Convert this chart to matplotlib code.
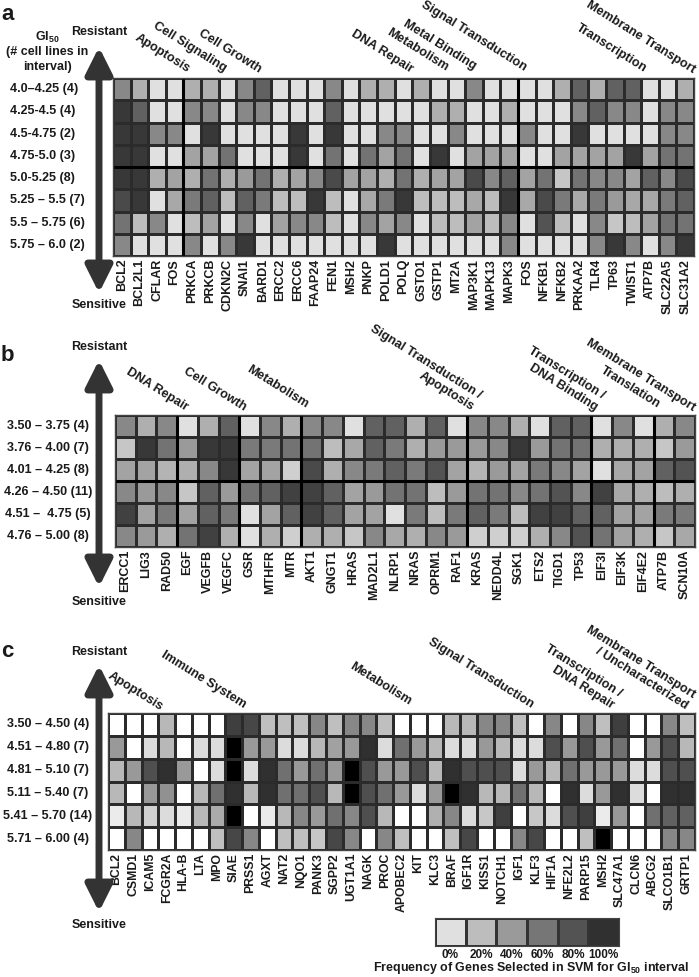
import matplotlib
matplotlib.use('Agg')
import matplotlib.pyplot as plt
import matplotlib.transforms as mtransforms
from matplotlib.colors import LinearSegmentedColormap
from matplotlib.patches import FancyArrowPatch
import numpy as np

plt.rcParams['font.family'] = ['Liberation Sans', 'DejaVu Sans']
plt.rcParams['font.weight'] = 'bold'
plt.rcParams['text.color'] = '#1a1a1a'
plt.rcParams['xtick.color'] = '#1a1a1a'
plt.rcParams['mathtext.fontset'] = 'custom'
plt.rcParams['mathtext.rm'] = 'Liberation Sans:bold'
plt.rcParams['mathtext.it'] = 'Liberation Sans:bold'
plt.rcParams['mathtext.bf'] = 'Liberation Sans:bold'
plt.rcParams['mathtext.default'] = 'rm'

# ---- data (frequency of selection, %) ----
genes_a = ['BCL2', 'BCL2L1', 'CFLAR', 'FOS', 'PRKCA', 'PRKCB', 'CDKN2C', 'SNAI1',
           'BARD1', 'ERCC2', 'ERCC6', 'FAAP24', 'FEN1', 'MSH2', 'PNKP', 'POLD1', 'POLQ',
           'GSTO1', 'GSTP1', 'MT2A', 'MAP3K1', 'MAPK13', 'MAPK3', 'FOS', 'NFKB1', 'NFKB2',
           'PRKAA2', 'TLR4', 'TP63', 'TWIST1', 'ATP7B', 'SLC22A5', 'SLC31A2']
rows_a = ['4.0–4.25 (4)', '4.25-4.5 (4)', '4.5-4.75 (2)', '4.75-5.0 (3)',
          '5.0-5.25 (8)', '5.25 – 5.5 (7)', '5.5 – 5.75 (6)', '5.75 – 6.0 (2)']
vals_a = [
    [50, 28, 0, 0, 28, 28, 0, 50, 72, 0, 0, 0, 50, 0, 28, 28, 0, 28, 0, 0, 50, 0, 0, 0, 0, 28, 72, 28, 72, 72, 0, 0, 28],
    [95, 72, 0, 0, 50, 50, 0, 50, 50, 0, 0, 0, 72, 0, 0, 0, 0, 0, 28, 28, 0, 0, 28, 0, 0, 0, 50, 72, 50, 50, 0, 50, 50],
    [95, 95, 50, 50, 0, 95, 0, 0, 0, 0, 95, 0, 95, 0, 0, 50, 50, 0, 0, 50, 0, 0, 0, 50, 0, 0, 95, 0, 0, 0, 0, 50, 50],
    [95, 95, 0, 0, 35, 35, 62, 0, 0, 0, 95, 0, 62, 0, 62, 35, 62, 0, 95, 0, 35, 35, 35, 0, 0, 35, 35, 35, 35, 95, 35, 62, 62],
    [95, 95, 28, 35, 28, 62, 28, 40, 62, 28, 35, 50, 85, 35, 35, 28, 62, 28, 35, 35, 85, 50, 72, 35, 62, 15, 62, 50, 50, 35, 72, 50, 85],
    [85, 95, 0, 32, 58, 72, 20, 72, 58, 20, 20, 95, 20, 0, 32, 58, 95, 20, 20, 20, 32, 20, 95, 32, 85, 58, 32, 58, 40, 32, 32, 58, 72],
    [62, 20, 50, 0, 20, 35, 0, 50, 0, 35, 50, 50, 20, 0, 50, 35, 50, 0, 20, 20, 35, 20, 50, 0, 80, 20, 0, 50, 15, 20, 35, 62, 62],
    [50, 0, 0, 0, 50, 0, 50, 95, 0, 0, 0, 0, 0, 0, 0, 95, 0, 0, 0, 0, 0, 0, 50, 0, 0, 0, 0, 50, 95, 50, 0, 50, 95],
]
groups_a = ['Apoptosis', 'Cell Signaling', 'Cell Growth', 'DNA Repair', 'Metabolism',
            'Metal Binding', 'Signal Transduction', 'Transcription', 'Membrane Transport']

genes_b = ['ERCC1', 'LIG3', 'RAD50', 'EGF', 'VEGFB', 'VEGFC', 'GSR', 'MTHFR', 'MTR',
           'AKT1', 'GNGT1', 'HRAS', 'MAD2L1', 'NLRP1', 'NRAS', 'OPRM1', 'RAF1', 'KRAS',
           'NEDD4L', 'SGK1', 'ETS2', 'TIGD1', 'TP53', 'EIF3I', 'EIF3K', 'EIF4E2', 'ATP7B', 'SCN10A']
rows_b = ['3.50 – 3.75 (4)', '3.76 – 4.00 (7)', '4.01 – 4.25 (8)',
          '4.26 – 4.50 (11)', '4.51 –  4.75 (5)', '4.76 – 5.00 (8)']
vals_b = [
    [50, 28, 50, 0, 28, 72, 0, 50, 28, 50, 50, 0, 72, 72, 28, 72, 0, 50, 50, 28, 0, 72, 72, 0, 50, 0, 28, 50],
    [15, 95, 62, 40, 95, 95, 58, 58, 62, 62, 20, 32, 72, 58, 28, 40, 40, 40, 50, 95, 40, 62, 62, 28, 28, 28, 15, 40],
    [35, 35, 25, 28, 50, 95, 35, 35, 10, 85, 28, 50, 58, 72, 58, 80, 35, 25, 40, 35, 58, 50, 35, 0, 32, 35, 72, 80],
    [50, 40, 50, 15, 72, 40, 62, 72, 90, 90, 72, 35, 40, 62, 62, 20, 40, 62, 62, 50, 62, 80, 50, 90, 32, 28, 20, 28],
    [90, 35, 58, 35, 72, 58, 0, 35, 72, 90, 72, 35, 35, 0, 58, 20, 58, 72, 58, 20, 90, 90, 72, 72, 35, 35, 58, 58],
    [50, 40, 28, 62, 90, 28, 0, 28, 10, 28, 28, 15, 50, 32, 28, 50, 40, 10, 10, 10, 28, 50, 80, 62, 35, 28, 15, 32],
]
groups_b = ['DNA Repair', 'Cell Growth', 'Metabolism', 'Signal Transduction /\nApoptosis',
            'Transcription /\nDNA Binding', 'Translation', 'Membrane Transport']

genes_c = ['BCL2', 'CSMD1', 'ICAM5', 'FCGR2A', 'HLA-B', 'LTA', 'MPO', 'SIAE', 'PRSS1',
           'AGXT', 'NAT2', 'NQO1', 'PANK3', 'SGPP2', 'UGT1A1', 'NAGK', 'PROC', 'APOBEC2',
           'KIT', 'KLC3', 'BRAF', 'IGF1R', 'KISS1', 'NOTCH1', 'IGF1', 'KLF3', 'HIF1A',
           'NFE2L2', 'PARP15', 'MSH2', 'SLC47A1', 'CLCN6', 'ABCG2', 'SLCO1B1', 'GRTP1']
rows_c = ['3.50 – 4.50 (4)', '4.51 – 4.80 (7)', '4.81 – 5.10 (7)',
          '5.11 – 5.40 (7)', '5.41 – 5.70 (14)', '5.71 – 6.00 (4)']
vals_c = [
    [0, 0, 0, 28, 0, 0, 0, 75, 72, 25, 25, 25, 47, 25, 47, 47, 25, 0, 0, 0, 28, 28, 47, 47, 25, 0, 47, 0, 47, 25, 75, 0, 0, 47, 25],
    [40, 0, 14, 28, 0, 14, 14, 100, 40, 40, 14, 14, 28, 37, 40, 81, 14, 56, 40, 28, 14, 14, 40, 28, 14, 14, 69, 40, 69, 40, 56, 0, 40, 69, 28],
    [28, 40, 69, 81, 40, 0, 14, 100, 14, 81, 56, 40, 56, 40, 100, 69, 40, 40, 69, 28, 81, 69, 69, 69, 14, 40, 28, 56, 40, 40, 40, 14, 14, 69, 69],
    [28, 0, 40, 43, 0, 28, 56, 81, 28, 81, 56, 56, 69, 28, 100, 69, 56, 40, 14, 40, 100, 81, 28, 28, 56, 28, 0, 81, 14, 40, 81, 14, 0, 81, 81],
    [8, 28, 18, 14, 8, 28, 33, 100, 0, 8, 28, 47, 40, 56, 47, 69, 28, 0, 0, 31, 47, 14, 22, 75, 0, 22, 14, 69, 75, 8, 40, 0, 56, 62, 62],
    [0, 47, 0, 0, 0, 0, 25, 72, 47, 0, 25, 25, 22, 72, 47, 0, 47, 25, 0, 0, 25, 72, 0, 0, 47, 72, 0, 0, 25, 100, 0, 0, 0, 47, 47],
]
groups_c = ['Apoptosis', 'Immune System', 'Metabolism', 'Signal Transduction',
            'Transcription /\nDNA Repair', 'Membrane Transport\n/ Uncharacterized']

legend_vals = [0, 20, 40, 60, 80, 100]

# ---- layout (pixels from top-left) ----
W, H = 699, 977
fig = plt.figure(figsize=(W / 100, H / 100), dpi=100)


def fx(x):
    return x / W


def fy(y):
    return 1 - y / H


cmap_ab = LinearSegmentedColormap.from_list('ab', ['#e0e0e0', '#303030'])
cmap_c = LinearSegmentedColormap.from_list('c', ['#ffffff', '#000000'])


def heat(box, vals, genes, rows, cmap, row_x, row_ha, vlines=(), hlines=(), gsize=9):
    x0, y0, x1, y1 = box
    ax = fig.add_axes([fx(x0), fy(y1), (x1 - x0) / W, (y1 - y0) / H])
    v = np.array(vals)
    ax.pcolormesh(v, cmap=cmap, vmin=0, vmax=100, edgecolors='#2b2b2b', linewidth=0.8)
    ax.set_xlim(0, v.shape[1])
    ax.set_ylim(v.shape[0], 0)
    for xv in vlines:
        ax.axvline(xv, color='black', lw=2.2)
    for yv in hlines:
        ax.axhline(yv, color='black', lw=2.2)
    ax.set_xticks(np.arange(v.shape[1]) + 0.5)
    ax.set_xticklabels(genes, rotation=90, fontsize=gsize, fontweight='bold')
    ax.set_yticks([])
    ax.tick_params(axis='x', length=0, pad=2)
    for s in ax.spines.values():
        s.set_linewidth(1.0)
        s.set_color('#444444')
    trans = mtransforms.blended_transform_factory(fig.transFigure, ax.transData)
    for i, r in enumerate(rows):
        ax.text(fx(row_x), i + 0.5, r, transform=trans, ha=row_ha, va='center',
                fontsize=9, fontweight='bold')
    return ax


def arrow(top, bot, x=99):
    fig.add_artist(FancyArrowPatch((fx(x), fy(bot)), (fx(x), fy(top)),
                                   transform=fig.transFigure,
                                   arrowstyle='<|-|>,head_length=0.8,head_width=0.4',
                                   mutation_scale=20, lw=5, color='#333333',
                                   shrinkA=0, shrinkB=0))


def groups(names, pos):
    for name, (x, y) in zip(names, pos):
        fig.text(fx(x), fy(y), name, rotation=-32, rotation_mode='anchor',
                 ha='right', va='bottom', multialignment='right',
                 fontsize=9.2, fontweight='bold', linespacing=1.15)


def side(letter, ly, res_y, sen_y):
    fig.text(fx(1), fy(ly), letter, fontsize=16, fontweight='bold', ha='left', va='baseline')
    fig.text(fx(99), fy(res_y), 'Resistant', fontsize=9, ha='center', va='center')
    fig.text(fx(99), fy(sen_y), 'Sensitive', fontsize=9, ha='center', va='center')


# panel a
heat((113, 78, 694, 256), vals_a, genes_a, rows_a, cmap_ab, 10, 'left',
     vlines=[4, 23], hlines=[4])
arrow(47, 293)
side('a', 20, 32, 305)
fig.text(fx(47), fy(37), 'GI$_{50}$', fontsize=9, ha='center', va='center')
fig.text(fx(47), fy(52), '(# cell lines in', fontsize=9, ha='center', va='center')
fig.text(fx(47), fy(67), 'interval)', fontsize=9, ha='center', va='center')
groups(groups_a, [(186, 75), (222, 74), (257, 75), (409, 75), (444, 74),
                  (472, 72), (522, 74), (642, 75), (691, 76)])

# panel b
heat((115, 415, 695, 547), vals_b, genes_b, rows_b, cmap_ab, 48, 'center',
     vlines=[3, 6, 9, 17, 23, 26], hlines=[3])
arrow(360, 587)
side('b', 361, 347, 602)
groups(groups_b, [(184, 413), (242, 413), (304, 411), (470, 413), (593, 413),
                  (656, 411), (691, 414)])

# panel c
heat((108, 713, 695, 850), vals_c, genes_c, rows_c, cmap_c, 48, 'center', gsize=8.8)
arrow(665, 912)
side('c', 657, 652, 925)
groups(groups_c, [(159, 713), (242, 711), (407, 708), (529, 711), (610, 711), (684, 712)])

# legend
axl = fig.add_axes([fx(435), fy(946), 184 / W, 28 / H])
axl.pcolormesh(np.array([legend_vals]), cmap=cmap_ab, vmin=0, vmax=100,
               edgecolors='#333333', linewidth=0.8)
axl.set_xlim(0, len(legend_vals))
axl.set_xticks(np.arange(len(legend_vals)) + 0.5)
axl.set_xticklabels([f'{v}%' for v in legend_vals], fontsize=8.5, fontweight='bold')
axl.set_yticks([])
axl.tick_params(axis='x', length=0, pad=2)
for s in axl.spines.values():
    s.set_color('#444444')
fig.text(fx(531), fy(968), 'Frequency of Genes Selected in SVM for GI$_{50}$ interval',
         fontsize=9, ha='center', va='center')

fig.savefig('out.png', dpi=100)
